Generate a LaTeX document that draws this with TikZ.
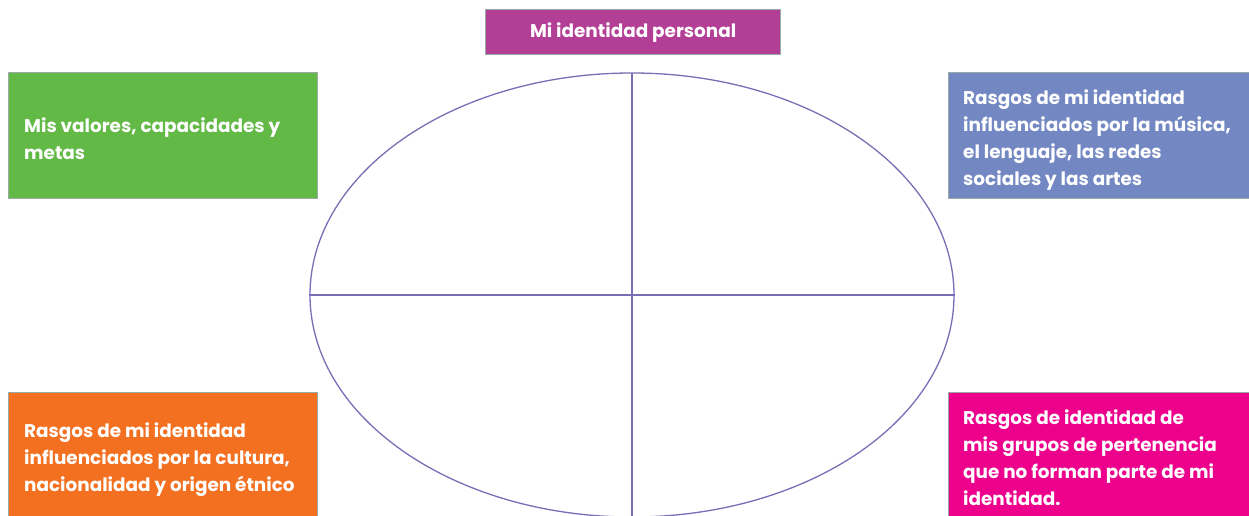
\documentclass[tikz,border=0pt]{standalone}
\usepackage{fontspec}
\setmainfont{Poppins}
\usetikzlibrary{shapes.geometric}
\definecolor{titlec}{HTML}{B33E96}
\definecolor{greenc}{HTML}{62B946}
\definecolor{bluec}{HTML}{7388C3}
\definecolor{orangec}{HTML}{F37021}
\definecolor{pinkc}{HTML}{EC008C}
\definecolor{edgec}{HTML}{9AAAA5}
\definecolor{linec}{HTML}{7B6DB5}
\begin{document}
\begin{tikzpicture}[x=1pt,y=-1pt,
  box/.style={draw=edgec,line width=1.2pt,rectangle,inner sep=0pt,anchor=north west},
  boxtext/.style={text=white,font=\bfseries\fontsize{18.4}{27}\selectfont,align=left,anchor=west,inner sep=0pt},
  divline/.style={draw=linec,line width=1.3pt}]
\useasboundingbox (0,0) rectangle (1249,516);
\begin{scope}
\clip (0,0) rectangle (1249,516);
% ellipse
\node[divline,ellipse,minimum width=644pt,minimum height=444pt,inner sep=0pt] (oval) at (632,295) {};
\coordinate (ctop) at (632,73);
\coordinate (cbot) at (632,530);
\draw[divline] (ctop) -- (cbot);
\draw[divline] (oval.west) -- (oval.east);
% boxes
\node[box,fill=titlec,minimum width=295pt,minimum height=45pt] (title) at (485,9) {};
\node[text=white,font=\bfseries\fontsize{18.4}{20}\selectfont,inner sep=0pt] (titletext) at (title.center) {Mi identidad personal};
\node[box,fill=greenc,minimum width=309pt,minimum height=126pt] (green) at (8,72) {};
\node[boxtext] (greentext) at (24,139) {Mis valores, capacidades y\\metas};
\node[box,fill=bluec,minimum width=320pt,minimum height=126pt] (blue) at (948,72) {};
\node[boxtext] (bluetext) at (963,140) {Rasgos de mi identidad\\influenciados por la música,\\el lenguaje, las redes\\sociales y las artes};
\node[box,fill=orangec,minimum width=309pt,minimum height=140pt] (orange) at (8,392) {};
\node[boxtext] (orangetext) at (24,460) {Rasgos de mi identidad\\influenciados por la cultura,\\nacionalidad y origen étnico};
\node[box,fill=pinkc,minimum width=320pt,minimum height=140pt] (pink) at (948,392) {};
\node[boxtext] (pinktext) at (963,458) {Rasgos de identidad de\\mis grupos de pertenencia\\que no forman parte de mi\\identidad.};
\end{scope}
\end{tikzpicture}
\end{document}
